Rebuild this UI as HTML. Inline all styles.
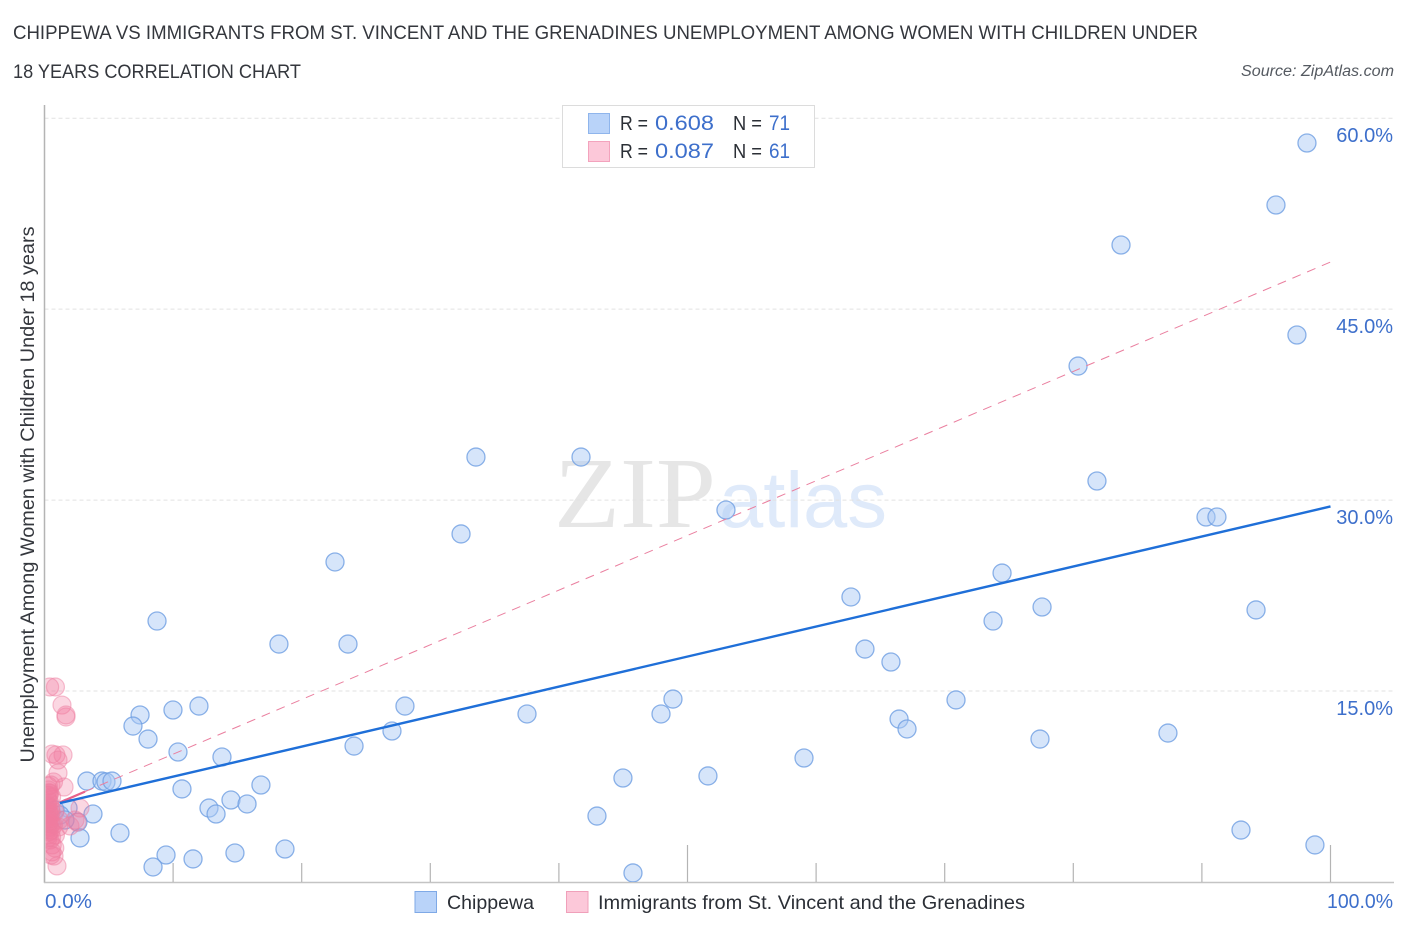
<!DOCTYPE html>
<html lang="en">
<head>
<meta charset="utf-8">
<title>Chippewa vs Immigrants from St. Vincent and the Grenadines Correlation Chart</title>
<style>
html,body{margin:0;padding:0;background:#fff;width:1406px;height:930px;overflow:hidden}
svg{display:block;font-family:"Liberation Sans",sans-serif}
</style>
</head>
<body>
<svg id="chart" width="1406" height="930" viewBox="0 0 1406 930" xmlns="http://www.w3.org/2000/svg">
  <defs>
    <clipPath id="plot-clip"><rect x="45.5" y="100" width="1349" height="782"/></clipPath>
  </defs>
  <rect x="0" y="0" width="1406" height="930" fill="#ffffff"/>
  <text x="13" y="39" font-size="19" fill="#34373d" textLength="1185" lengthAdjust="spacingAndGlyphs">CHIPPEWA VS IMMIGRANTS FROM ST. VINCENT AND THE GRENADINES UNEMPLOYMENT AMONG WOMEN WITH CHILDREN UNDER</text>
  <text x="13" y="78" font-size="19" fill="#34373d" textLength="288" lengthAdjust="spacingAndGlyphs">18 YEARS CORRELATION CHART</text>
  <text x="1394" y="76" font-size="15.5" font-style="italic" fill="#555a61" text-anchor="end" textLength="153" lengthAdjust="spacingAndGlyphs">Source: ZipAtlas.com</text>

  <g id="watermark">
    <text x="554" y="527" font-family="'Liberation Serif',serif" font-size="101" fill="#e6e6e6" textLength="162" lengthAdjust="spacingAndGlyphs">ZIP</text>
    <text x="719" y="527" font-size="79" fill="#dfeafa" textLength="168" lengthAdjust="spacingAndGlyphs">atlas</text>
  </g>

  <g id="grid"></g>
  <g id="axes"></g>
  <g id="blue-points" clip-path="url(#plot-clip)"></g>
  <g id="pink-points" clip-path="url(#plot-clip)"></g>
  <g id="trends"></g>
  <g id="tick-labels"></g>

  <text transform="translate(34,494.5) rotate(-90)" font-size="19" fill="#34373d" text-anchor="middle" textLength="536" lengthAdjust="spacingAndGlyphs">Unemployment Among Women with Children Under 18 years</text>

  <g>
    <rect x="562.5" y="105.5" width="252" height="62" fill="#ffffff" stroke="#dcdcdc"/>
    <rect x="588.5" y="113.5" width="21" height="20" fill="#b9d3f9" stroke="#8fb5ec"/>
    <rect x="588.5" y="141.5" width="21" height="20" fill="#fcc8d9" stroke="#f3a3bd"/>
    <text x="620" y="130" font-size="20" fill="#2b2f36" textLength="28" lengthAdjust="spacingAndGlyphs">R =</text>
    <text x="655" y="130" font-size="21.5" fill="#3d6fcb" textLength="59" lengthAdjust="spacingAndGlyphs">0.608</text>
    <text x="733" y="130" font-size="20" fill="#2b2f36" textLength="29" lengthAdjust="spacingAndGlyphs">N =</text>
    <text x="769" y="130" font-size="21.5" fill="#3d6fcb" textLength="21" lengthAdjust="spacingAndGlyphs">71</text>
    <text x="620" y="158" font-size="20" fill="#2b2f36" textLength="28" lengthAdjust="spacingAndGlyphs">R =</text>
    <text x="655" y="158" font-size="21.5" fill="#3d6fcb" textLength="59" lengthAdjust="spacingAndGlyphs">0.087</text>
    <text x="733" y="158" font-size="20" fill="#2b2f36" textLength="29" lengthAdjust="spacingAndGlyphs">N =</text>
    <text x="769" y="158" font-size="21.5" fill="#3d6fcb" textLength="21" lengthAdjust="spacingAndGlyphs">61</text>
  </g>

  <g>
    <rect x="415" y="891.5" width="21.5" height="21" fill="#b9d3f9" stroke="#7fa9e6"/>
    <text x="447" y="909" font-size="19.5" fill="#2b2f36" textLength="87" lengthAdjust="spacingAndGlyphs">Chippewa</text>
    <rect x="566.5" y="891.5" width="21.5" height="21" fill="#fcc8d9" stroke="#f0a0ba"/>
    <text x="598" y="909" font-size="19.5" fill="#2b2f36" textLength="427" lengthAdjust="spacingAndGlyphs">Immigrants from St. Vincent and the Grenadines</text>
  </g>
</svg>
<script>
var yTicks = [15, 30, 45, 60];
var yTickLabels = ["15.0%", "30.0%", "45.0%", "60.0%"];
var xTicks = [0, 10, 20, 30, 40, 50, 60, 70, 80, 90, 100];
var xEndLabels = ["0.0%", "100.0%"];
var blueX = [98.17,95.76,83.71,97.39,80.37,33.55,41.72,81.84,32.39,52.99,90.32,91.17,22.59,74.46,62.71,77.57,94.21,8.75,73.76,18.23,23.60,63.80,65.82,48.87,70.88,12.01,28.03,9.99,7.43,37.52,47.94,66.45,6.88,67.07,27.02,8.05,77.41,87.36,24.07,10.38,13.80,59.06,3.30,4.47,4.78,5.25,51.59,44.98,16.83,10.69,14.50,15.75,12.79,13.34,3.77,42.96,1.83,2.60,5.87,2.76,93.04,98.79,18.70,14.81,9.45,11.55,8.44,45.76,1.21,0.82,1.59];
var blueY = [58.05,53.18,50.04,42.97,40.53,33.38,33.38,31.50,27.34,29.22,28.67,28.67,25.14,24.27,22.39,21.60,21.37,20.50,20.50,18.69,18.69,18.30,17.28,14.37,14.30,13.82,13.82,13.51,13.12,13.20,13.20,12.80,12.25,12.02,11.86,11.23,11.23,11.70,10.68,10.21,9.82,9.74,7.93,7.93,7.86,7.93,8.33,8.17,7.62,7.31,6.44,6.13,5.81,5.34,5.34,5.18,5.81,4.71,3.85,3.46,4.08,2.91,2.59,2.28,2.12,1.81,1.18,0.71,5.26,5.66,4.87];
var pinkX = [0.40,0.85,1.36,1.67,1.67,0.58,0.89,1.44,1.05,1.05,0.70,0.50,1.52,0.30,0.40,0.20,0.30,0.35,0.55,0.28,0.40,0.24,0.48,0.20,0.32,0.52,0.80,0.20,0.44,0.32,1.15,0.28,2.76,2.53,2.37,0.55,0.70,0.40,1.10,0.24,0.24,0.52,0.36,1.98,0.85,0.28,0.44,0.60,0.80,0.58,0.74,0.51,0.97,0.32,0.25,0.40,0.35,0.20,0.45,0.30,0.55];
var pinkY = [15.32,15.32,13.90,12.96,13.12,10.05,9.98,9.98,9.58,8.56,7.86,7.62,7.46,7.54,6.99,6.83,7.23,6.83,6.68,6.44,6.21,5.97,5.81,5.66,5.58,5.50,5.50,5.26,5.18,4.87,4.87,4.63,5.81,4.71,4.87,4.56,4.48,4.32,4.32,4.40,4.08,4.08,3.93,4.40,3.69,3.46,3.30,2.91,2.67,2.36,2.04,2.12,1.26,7.00,6.10,5.40,5.00,4.60,4.70,3.70,3.50];
var blueTrendX = [1.2, 100];
var blueTrendY = [6.2, 29.5];
var pinkSolidX = [1.2, 3.15];
var pinkSolidY = [6.25, 7.1];
var pinkDashX = [3.15, 100];
var pinkDashY = [7.1, 48.7];

var NS = "http://www.w3.org/2000/svg";
function xScale(v) { return 44.5 + v * 12.86; }
function yScale(v) { return 882 - v * 12.73; }
function make(tag, parentId, attrs) {
  var el = document.createElementNS(NS, tag);
  for (var k in attrs) { el.setAttribute(k, attrs[k]); }
  document.getElementById(parentId).appendChild(el);
  return el;
}

yTicks.forEach(function (t) {
  var g = make("line", "grid", {x1: 44.5, x2: 1394, y1: yScale(t), y2: yScale(t), stroke: "#e2e2e2", "stroke-width": 1, "stroke-dasharray": "4 3"});
  
  
});

var yAxis = make("line", "axes", {x1: 44.5, x2: 44.5, y1: 105, y2: 883, stroke: "#b4b4b4", "stroke-width": 1.5});


var xAxis = make("line", "axes", {x1: 44, x2: 1394, y1: 882.5, y2: 882.5, stroke: "#c4c4c4", "stroke-width": 1.5});



xTicks.forEach(function (t) {
  var major = (t === 50 || t === 100);
  var tick = make("line", "axes", {x1: xScale(t), x2: xScale(t), y1: major ? 845 : 863, y2: 882, stroke: "#b4b4b4", "stroke-width": 1.2});
  
  
});

blueX.forEach(function (v, i) {
  var c = make("circle", "blue-points", {cx: xScale(v), cy: yScale(blueY[i]), r: 9, fill: "#a9c9f5", "fill-opacity": 0.48, stroke: "#6f9fe2", "stroke-opacity": 0.8, "stroke-width": 1.3});
  
  
});
pinkX.forEach(function (v, i) {
  var c = make("circle", "pink-points", {cx: xScale(v), cy: yScale(pinkY[i]), r: 9, fill: "#f27ba0", "fill-opacity": 0.3, stroke: "#ee7fa2", "stroke-opacity": 0.5, "stroke-width": 1.2});
  
  
});

var pinkDash = make("line", "trends", {x1: xScale(pinkDashX[0]), y1: yScale(pinkDashY[0]), x2: xScale(pinkDashX[1]), y2: yScale(pinkDashY[1]), stroke: "#ea7f9f", "stroke-width": 1, "stroke-dasharray": "9 7"});


var pinkSolid = make("line", "trends", {x1: xScale(pinkSolidX[0]), y1: yScale(pinkSolidY[0]), x2: xScale(pinkSolidX[1]), y2: yScale(pinkSolidY[1]), stroke: "#e8628a", "stroke-width": 2.2});


var blueLine = make("line", "trends", {x1: xScale(blueTrendX[0]), y1: yScale(blueTrendY[0]), x2: xScale(blueTrendX[1]), y2: yScale(blueTrendY[1]), stroke: "#1f6fd8", "stroke-width": 2.4});



yTicks.forEach(function (t, i) {
  var lab = make("text", "tick-labels", {x: 1393, y: yScale(t) + 24, "font-size": 20, fill: "#3d6fcb", "text-anchor": "end"});
  lab.textContent = yTickLabels[i];
  
  
});
var x0 = make("text", "tick-labels", {x: 45, y: 908, "font-size": 20, fill: "#3d6fcb", textLength: 47, lengthAdjust: "spacingAndGlyphs"});
x0.textContent = xEndLabels[0];


var x1 = make("text", "tick-labels", {x: 1327, y: 908, "font-size": 20, fill: "#3d6fcb", textLength: 66, lengthAdjust: "spacingAndGlyphs"});
x1.textContent = xEndLabels[1];


</script>
</body>
</html>
